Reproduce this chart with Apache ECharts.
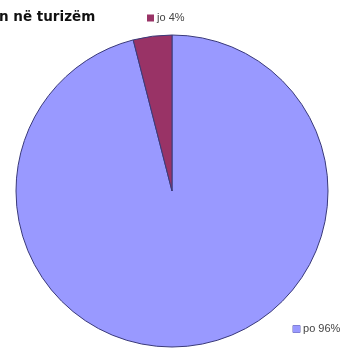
<!DOCTYPE html>
<html>
<head>
<meta charset="utf-8">
<script src="https://cdn.jsdelivr.net/npm/echarts@6/dist/echarts.min.js"></script>
<style>
  html, body { margin: 0; padding: 0; background: #ffffff; }
  #chart { width: 359px; height: 349px; }
</style>
</head>
<body>
<div id="chart"></div>
<script>
// Share of answers, listed clockwise from twelve o'clock
const categories = ['po', 'jo'];
const shares = [96, 4];
const sliceColors = ['#9999ff', '#993366'];
const titleText = 'n në turizëm';

// Where each answer's caption sits (marker + name + percent)
const captionSpots = {
  po: { x: 293, y: 329 },
  jo: { x: 147, y: 18 }
};

const chart = echarts.init(document.getElementById('chart'));

chart.setOption({
  backgroundColor: '#ffffff',
  animation: false,
  title: {
    text: titleText,
    left: -1,
    top: 10,
    padding: 0,
    textStyle: {
      fontFamily: 'DejaVu Sans, sans-serif',
      fontSize: 13.5,
      fontWeight: 'bold',
      color: '#111111'
    }
  },
  series: [{
    type: 'pie',
    center: [172, 191],
    radius: 156,
    startAngle: 90,
    clockwise: true,
    silent: true,
    itemStyle: {
      borderColor: '#3a3a7a',
      borderWidth: 1
    },
    labelLine: { show: false },
    label: {
      show: true,
      position: 'outside',
      formatter: function (p) {
        const key = p.dataIndex === 0 ? 'mPo' : 'mJo';
        return '{' + key + '|}{t| ' + p.name + ' ' + p.value + '%}';
      },
      rich: {
        mPo: { width: 7, height: 7, backgroundColor: '#9999ff', borderColor: '#6a6ab0', borderWidth: 0.5 },
        mJo: { width: 7, height: 7, backgroundColor: '#993366' },
        t: {
          fontFamily: 'Liberation Sans, Arial, sans-serif',
          fontSize: 11,
          color: '#444444'
        }
      }
    },
    labelLayout: function (params) {
      const name = categories[params.dataIndex];
      const spot = captionSpots[name];
      return { x: spot.x, y: spot.y, align: 'left', verticalAlign: 'middle' };
    },
    data: categories.map(function (name, i) {
      return { name: name, value: shares[i], itemStyle: { color: sliceColors[i] } };
    })
  }]
});
</script>
</body>
</html>
